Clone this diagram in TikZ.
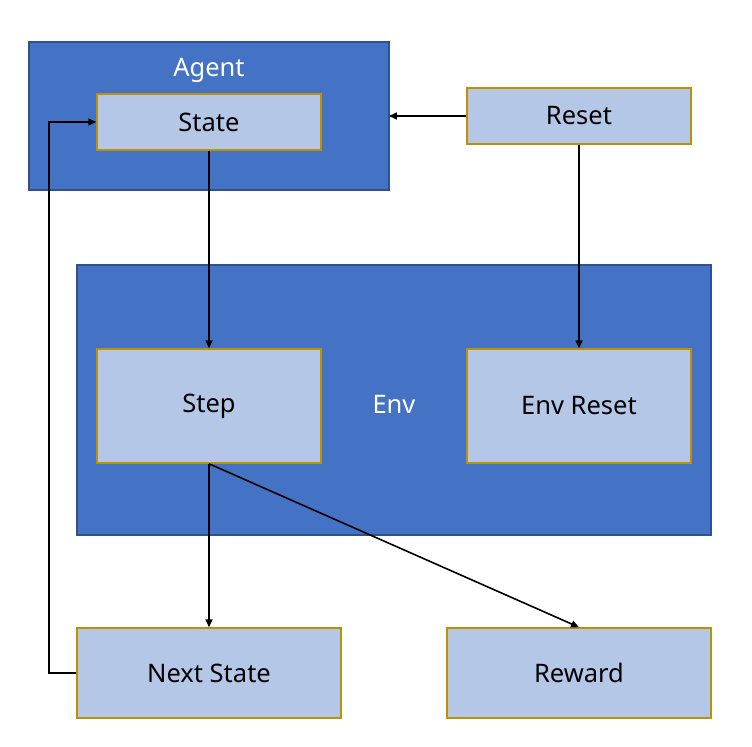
\documentclass[tikz,border=0pt]{standalone}
\usepackage{fontspec}
\setmainfont{Noto Sans}
\usetikzlibrary{arrows.meta}
\definecolor{outerblue}{HTML}{4472C4}
\definecolor{outerborder}{HTML}{2F528F}
\definecolor{innerblue}{HTML}{B4C7E7}
\definecolor{gold}{HTML}{BF9000}
\tikzset{
  outerbox/.style={draw=outerborder, fill=outerblue, line width=1.5pt, inner sep=0pt},
  innerbox/.style={draw=gold, fill=innerblue, line width=1.5pt, font=\fontsize{25.5bp}{30bp}\selectfont, text=black},
  conn/.style={draw=black, line width=1.6pt, -{Triangle[length=8pt,width=7pt]}},
  whitelabel/.style={text=white, font=\fontsize{25.5bp}{30bp}\selectfont}
}
\begin{document}
\begin{tikzpicture}[x=1bp, y=-1bp]
\useasboundingbox (0,0) rectangle (752,747);
% containers
\path[outerbox] (29,42) rectangle (389,190);
\coordinate (agentR) at (389,116);
\path[outerbox] (77,265) rectangle (711,535);
\node[whitelabel] (agentlbl) at (209,70) {Agent};
\node[whitelabel] (envlbl) at (394,404) {Env};
% inner nodes
\node[innerbox, minimum width=224bp, minimum height=56bp] (state) at (209,122) {State};
\node[innerbox, minimum width=224bp, minimum height=56bp] (reset) at (579,116) {Reset};
\node[innerbox, minimum width=224bp, minimum height=114bp] (step) at (209,406) {Step};
\node[innerbox, minimum width=224bp, minimum height=114bp] (envreset) at (579,406) {Env Reset};
\node[innerbox, minimum width=264bp, minimum height=90bp] (next) at (209,673) {Next State};
\node[innerbox, minimum width=264bp, minimum height=90bp] (reward) at (579,673) {Reward};
% connectors
\draw[conn] (state.south) -- (step.north);
\draw[conn] (reset.west) -- (agentR);
\draw[conn] (reset.south) -- (envreset.north);
\draw[conn] (step.south) -- (next.north);
\draw[conn] (step.south) -- (reward.north);
\draw[conn] (next.west) -- (49,673) -- (49,122) -- (state.west);
\end{tikzpicture}
\end{document}
